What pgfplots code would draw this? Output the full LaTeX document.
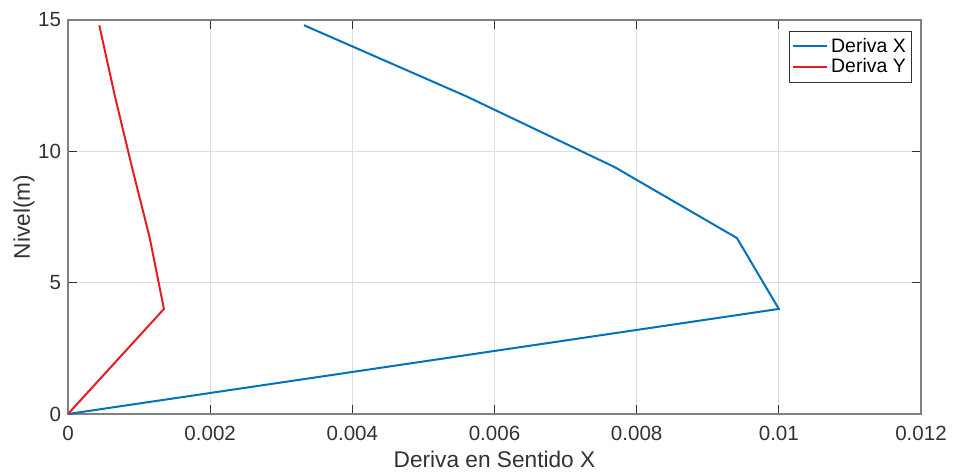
\documentclass[border=0pt]{standalone}
\usepackage{fontspec}
\setmainfont{Liberation Sans}
\usepackage{pgfplots}
\pgfplotsset{compat=1.18}
\definecolor{mblue}{RGB}{0,114,189}
\definecolor{mred}{RGB}{228,28,36}
\definecolor{boxgray}{RGB}{128,128,128}
\definecolor{tickgray}{RGB}{50,50,50}
\definecolor{gridgray}{RGB}{222,222,222}
\begin{document}
\begin{tikzpicture}
\path[use as bounding box] (-51pt,-43.5pt) rectangle (664.5pt,310.5pt);
\begin{axis}[
  at={(0,0)}, anchor=south west,
  scale only axis,
  width=639.75pt, height=295.5pt,
  xmin=0, xmax=0.012, ymin=0, ymax=15,
  xtick={0,0.002,0.004,0.006,0.008,0.01,0.012},
  xticklabels={0,0.002,0.004,0.006,0.008,0.01,0.012},
  ytick={0,5,10,15},
  scaled x ticks=false,
  grid=major,
  major grid style={gridgray, line width=0.6pt},
  tick align=inside,
  major tick length=6.5pt,
  tick style={tickgray, line width=0.7pt},
  axis line style={boxgray, line width=0.9pt},
  every tick label/.append style={font=\fontsize{15.4}{16}\selectfont, text=tickgray},
  /pgf/number format/assume math mode=true,
  xticklabel style={anchor=base, inner sep=0pt, yshift=-20pt},
  yticklabel style={anchor=east, inner sep=0pt, xshift=-5pt},
  xlabel={Deriva en Sentido X},
  ylabel={Nivel(m)},
  label style={font=\fontsize{17}{18}\selectfont, text=tickgray},
  xlabel style={at={(axis description cs:0.5,0)}, anchor=base, yshift=-39.75pt, inner sep=0pt},
  ylabel style={at={(axis description cs:0,0.5)}, anchor=center, yshift=33pt, inner sep=0pt},
  legend style={at={(rel axis cs:1,1)}, anchor=north east, xshift=-7.1pt, yshift=-8pt,
    draw=tickgray, line width=0.6pt, font=\fontsize{14.6}{15}\selectfont,
    inner xsep=2pt, inner ysep=3.5pt, row sep=-1pt},
  legend cell align=left,
  legend image code/.code={\draw[#1, line width=1.5pt] (0pt,0pt) -- (26pt,0pt);},
]
\addplot[mblue, line width=1.5pt] coordinates {
  (0,0) (0.0100,4.0) (0.00941,6.7) (0.00769,9.4) (0.00560,12.1) (0.00332,14.8)
};
\addlegendentry{Deriva X}
\addplot[mred, line width=1.5pt] coordinates {
  (0,0) (0.00135,4.0) (0.00115,6.7) (0.00090,9.4) (0.00066,12.1) (0.00044,14.8)
};
\addlegendentry{Deriva Y}
\end{axis}
\end{tikzpicture}
\end{document}
